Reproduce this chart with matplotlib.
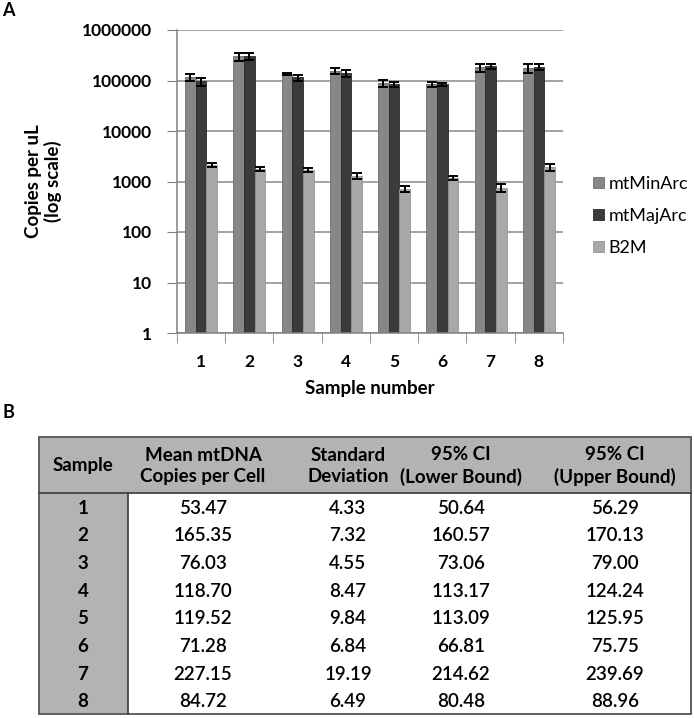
import numpy as np
import matplotlib
matplotlib.use("Agg")
import matplotlib.pyplot as plt
from matplotlib.patches import Rectangle

plt.rcParams['font.family'] = ['Lato', 'DejaVu Sans']

# chart A data
samples = ['1', '2', '3', '4', '5', '6', '7', '8']
series = ['mtMinArc', 'mtMajArc', 'B2M']
min_arc = [115000, 300000, 135000, 156000, 89000, 84000, 181000, 176000]
min_err = [17000, 55000, 9000, 20000, 14000, 8000, 33000, 32000]
maj_arc = [96000, 305000, 115000, 142000, 85000, 85000, 192000, 189000]
maj_err = [17000, 50000, 15000, 22000, 10000, 6000, 25000, 25000]
b2m = [2150, 1800, 1700, 1300, 720, 1180, 760, 1950]
b2m_err = [200, 180, 180, 200, 100, 130, 130, 300]
colors = ['#878787', '#3b3b3b', '#a8a8a8']
edges = ['#6e6e6e', '#2a2a2a', '#959595']

# table B data
col_heads = ['Sample', 'Mean mtDNA\nCopies per Cell', 'Standard\nDeviation',
             '95% CI\n(Lower Bound)', '95% CI\n(Upper Bound)']
mean_cn = ['53.47', '165.35', '76.03', '118.70', '119.52', '71.28', '227.15', '84.72']
std_dev = ['4.33', '7.32', '4.55', '8.47', '9.84', '6.84', '19.19', '6.49']
ci_low = ['50.64', '160.57', '73.06', '113.17', '113.09', '66.81', '214.62', '80.48']
ci_high = ['56.29', '170.13', '79.00', '124.24', '125.95', '75.75', '239.69', '88.96']

W, H = 694, 718
fig = plt.figure(figsize=(W / 100, H / 100), dpi=100)

# ---- panel A ----
ax = fig.add_axes([177 / W, 1 - 333 / H, (563 - 177) / W, (333 - 30) / H])
x = np.arange(len(samples))
bw = 1 / 4.5
vals = [min_arc, maj_arc, b2m]
errs = [min_err, maj_err, b2m_err]
for i in range(3):
    ax.bar(x + (i - 1) * bw, vals[i], bw, yerr=errs[i], color=colors[i],
           edgecolor=edges[i], linewidth=0.6, label=series[i], zorder=2,
           error_kw=dict(ecolor='black', elinewidth=1.4, capsize=3.5, capthick=1.4))

ax.set_yscale('log')
ax.set_ylim(1, 1e6)
ax.set_xlim(-0.5, len(samples) - 0.5)
ax.set_yticks([1, 10, 100, 1000, 10000, 100000, 1000000])
ax.set_yticklabels(['1', '10', '100', '1000', '10000', '100000', '1000000'])
ax.minorticks_off()
ax.set_xticks(x)
ax.set_xticklabels(samples)
ax.set_xticks(np.arange(len(samples) + 1) - 0.5, minor=True)
ax.tick_params(axis='x', which='major', length=0, pad=15)
ax.tick_params(axis='x', which='minor', length=7, color='#808080', direction='out')
ax.tick_params(axis='y', length=7, color='#808080', pad=11)
for lab in ax.get_xticklabels() + ax.get_yticklabels():
    lab.set_fontsize(12.5)
    lab.set_fontweight('bold')
ax.grid(axis='y', color='#8a8a8a', linewidth=1.1, zorder=0)
ax.set_axisbelow(True)
for s in ['top', 'right']:
    ax.spines[s].set_visible(False)
for s in ['left', 'bottom']:
    ax.spines[s].set_color('#808080')
    ax.spines[s].set_linewidth(1.1)

ax.set_ylabel('Copies per uL\n(log scale)', fontsize=13.5, fontweight='bold', linespacing=1.1)
ax.yaxis.set_label_coords(-0.298, 0.5)
ax.set_xlabel('Sample number', fontsize=13.5, fontweight='bold', labelpad=7)

ax.legend(loc='center left', bbox_to_anchor=(1.078, 0.386), frameon=False, fontsize=13,
          borderaxespad=0, borderpad=0, handlelength=0.6, handleheight=0.6,
          handletextpad=0.25, labelspacing=0.89)

fig.text(8 / W, 1 - 11 / H, 'A', fontsize=13, fontweight='bold', ha='center', va='center')
fig.text(8 / W, 1 - 412 / H, 'B', fontsize=13, fontweight='bold', ha='center', va='center')

# ---- panel B (table) ----
tax = fig.add_axes([0, 0, 1, 1])
tax.set_xlim(0, W)
tax.set_ylim(H, 0)
tax.axis('off')

left, right, top, head_bot, bottom = 39, 691, 437, 493, 714
div = 128
gray = '#b3b3b3'
tax.add_patch(Rectangle((left, top), right - left, head_bot - top, facecolor=gray,
                        edgecolor='none'))
tax.add_patch(Rectangle((left, head_bot), div - left, bottom - head_bot, facecolor=gray,
                        edgecolor='none'))
tax.add_patch(Rectangle((left, top), right - left, bottom - top, facecolor='none',
                        edgecolor='#555555', linewidth=1.3))
tax.plot([left, right], [head_bot, head_bot], color='#444444', linewidth=1.3)
tax.plot([div, div], [head_bot, bottom], color='#444444', linewidth=1.3)

col_x = [83, 203, 348, 461, 615]
for cx, head in zip(col_x, col_heads):
    tax.text(cx, 466, head, ha='center', va='center', fontsize=13.5, fontweight='bold',
             linespacing=1.3)

row_y0, row_dy = 508, 27.7
columns = [samples, mean_cn, std_dev, ci_low, ci_high]
for j, col in enumerate(columns):
    for i, v in enumerate(col):
        tax.text(col_x[j], row_y0 + i * row_dy, v, ha='center', va='center', fontsize=13.5,
                 fontweight='bold' if j == 0 else 'semibold')

fig.savefig('out.png', dpi=100)
